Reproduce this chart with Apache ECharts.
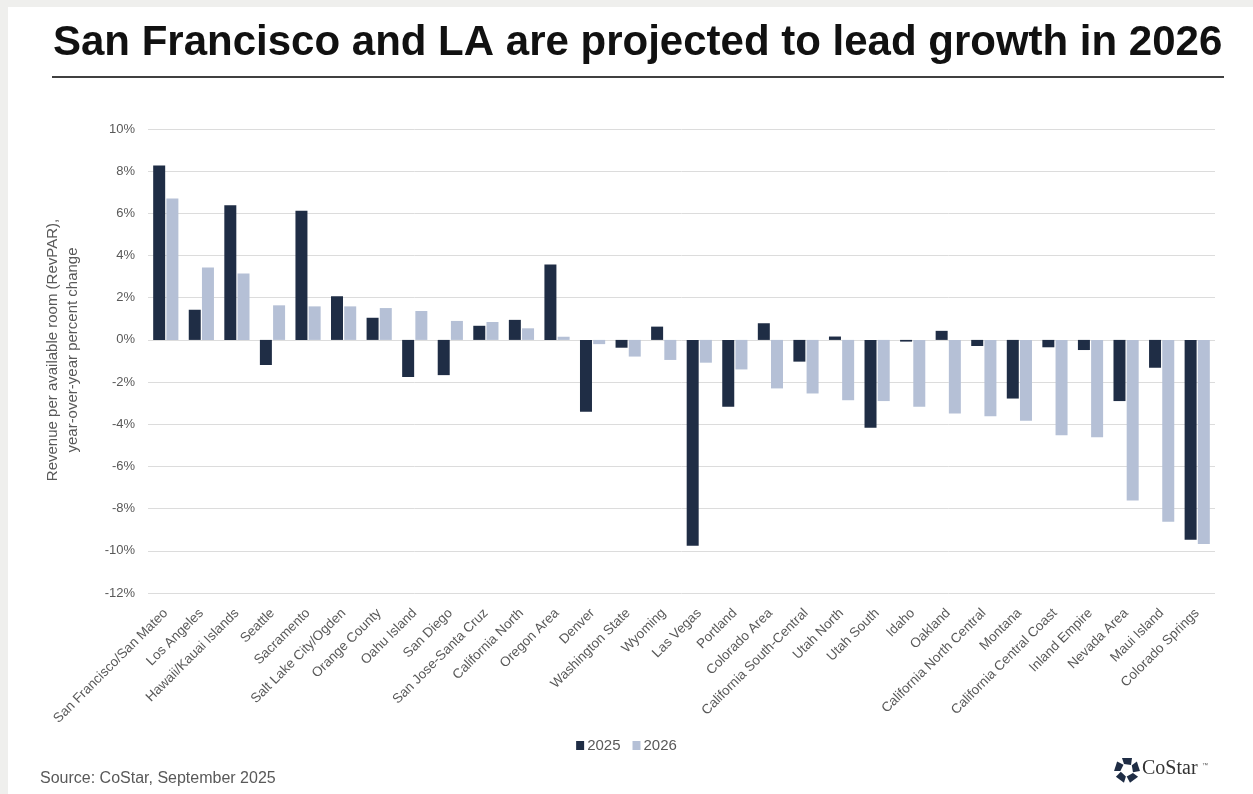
<!DOCTYPE html>
<html>
<head>
<meta charset="utf-8">
<script src="https://cdn.jsdelivr.net/npm/echarts@6/dist/echarts.min.js"></script>
<style>
html,body{margin:0;padding:0;background:#efefed;}
#chart{position:absolute;left:0;top:0;width:1253px;height:794px;}
</style>
</head>
<body>
<div id="chart"></div>
<script>
const categories = ["San Francisco/San Mateo","Los Angeles","Hawaii/Kauai Islands","Seattle","Sacramento","Salt Lake City/Ogden","Orange County","Oahu Island","San Diego","San Jose-Santa Cruz","California North","Oregon Area","Denver","Washington State","Wyoming","Las Vegas","Portland","Colorado Area","California South-Central","Utah North","Utah South","Idaho","Oakland","California North Central","Montana","California Central Coast","Inland Empire","Nevada Area","Maui Island","Colorado Springs"];
const values2025 = [8.27,1.43,6.38,-1.19,6.12,2.07,1.05,-1.76,-1.67,0.67,0.95,3.57,-3.41,-0.37,0.63,-9.76,-3.17,0.79,-1.03,0.16,-4.17,-0.08,0.43,-0.29,-2.78,-0.35,-0.48,-2.90,-1.32,-9.48];
const values2026 = [6.71,3.43,3.15,1.64,1.59,1.59,1.51,1.37,0.90,0.85,0.55,0.15,-0.20,-0.79,-0.95,-1.08,-1.40,-2.30,-2.54,-2.86,-2.90,-3.17,-3.49,-3.62,-3.83,-4.52,-4.62,-7.62,-8.62,-9.68];
const seriesNames = ["2025","2026"];
const yTicks = {min:-12, max:10, interval:2};

const chart = echarts.init(document.getElementById('chart'));
const dark = '#1f2d45', light = '#b5c0d6', txt = '#595959';
const petals = [];
for (let i = 0; i < 5; i++) {
  petals.push({
    type: 'polygon',
    shape: {points: [[-5,-12],[5,-12],[4,-5],[-3,-6]]},
    rotation: -i * 2 * Math.PI / 5,
    style: {fill: '#1f2d45'}
  });
}
chart.setOption({
  backgroundColor: 'transparent',
  animation: false,
  graphic: [
    {type:'rect', left:8, top:7, shape:{width:1245, height:787}, style:{fill:'#ffffff'}, z:-10},
    {type:'text', left:53, top:22, style:{text:'San Francisco and LA are projected to lead growth in 2026', font:'bold 42px "Liberation Sans", Arial, sans-serif', fill:'#111111'}},
    {type:'rect', shape:{x:52, y:76, width:1172, height:2}, style:{fill:'#404040'}},
    {type:'text', x:63, y:350, rotation: Math.PI/2, style:{text:'Revenue per available room (RevPAR),\nyear-over-year percent change', font:'15px "Liberation Sans", Arial, sans-serif', fill:txt, align:'center', verticalAlign:'middle', lineHeight:20}},
    {type:'text', left:40, top:771, style:{text:'Source: CoStar, September 2025', font:'16px "Liberation Sans", Arial, sans-serif', fill:txt}},
    {type:'group', x:1127, y:770, children: petals},
    {type:'text', left:1142, top:759, style:{text:'CoStar', font:'20px "Liberation Serif", "DejaVu Serif", serif', fill:'#333333'}},
    {type:'text', left:1202, top:762, style:{text:'™', font:'6px sans-serif', fill:'#555'}}
  ],
  grid: {left:148, right:38, top:129, bottom:201, containLabel:false},
  legend: {
    data: seriesNames, bottom: 36, left: 'center', itemWidth: 8, itemHeight: 9, itemGap: 12,
    icon: 'rect', textStyle: {color: txt, fontSize: 15, padding:[0,0,0,-2], fontFamily: '"Liberation Sans", Arial'}
  },
  xAxis: {
    type: 'category', data: categories, position: 'bottom',
    axisLine: {show:false, onZero:false}, axisTick: {show:false},
    axisLabel: {rotate:45, interval:0, color:txt, fontSize:13.5, fontFamily:'"Liberation Sans", Arial', margin:18}
  },
  yAxis: {
    type: 'value', min: yTicks.min, max: yTicks.max, interval: yTicks.interval,
    axisLabel: {formatter: v => v + '%', color: txt, fontSize: 13, margin: 13, fontFamily: '"Liberation Sans", Arial'},
    splitLine: {lineStyle: {color: '#dcdcdc', width: 1}},
    axisLine: {show:false}, axisTick: {show:false}
  },
  series: [
    {name: seriesNames[0], type:'bar', data: values2025, barWidth: 12, barGap: '10%', itemStyle:{color: dark}},
    {name: seriesNames[1], type:'bar', data: values2026, barWidth: 12, itemStyle:{color: light}}
  ]
});
</script>
</body>
</html>
